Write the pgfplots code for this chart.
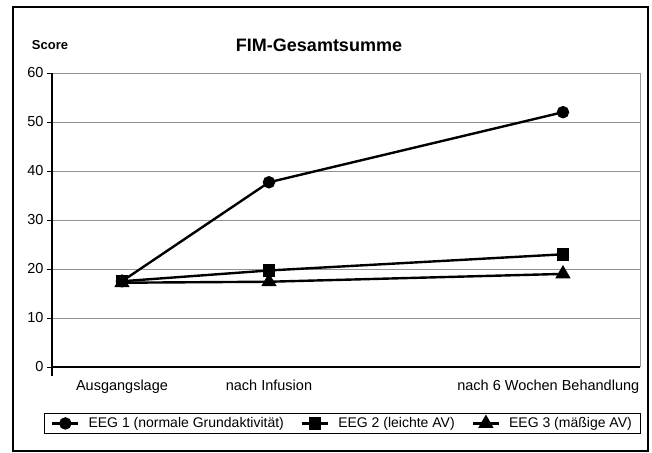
\documentclass[border=0pt]{standalone}
\usepackage{fontspec}
\setmainfont{Liberation Sans}
\usepackage{pgfplots}
\pgfplotsset{compat=1.18}
\begin{document}
\begin{tikzpicture}[x=1pt,y=1pt]
\path (0,0) rectangle (652,452);
\draw[line width=1.2pt] (13,1) rectangle (648,445);
\node[font=\fontsize{18}{21}\selectfont\bfseries] at (319,407) {FIM-Gesamtsumme};
\node[font=\fontsize{13}{15}\selectfont\bfseries] at (50,407) {Score};
\begin{axis}[
  at={(52pt,85pt)}, anchor=south west,
  scale only axis, width=588pt, height=294pt,
  xmin=-0.476, xmax=3.524, ymin=0, ymax=60,
  axis lines=left, axis line style={-, line width=1.4pt},
  ytick={0,10,...,60},
  ymajorgrids, grid style={gray!85, line width=0.7pt},
  tick align=outside, major tick length=5pt,
  y tick style={black, line width=0.8pt},
  xtick={0,1,2.9}, x tick style={draw=none},
  xticklabels={Ausgangslage, nach Infusion, nach 6 Wochen Behandlung},
  xticklabel style={yshift=-4pt},
  tick label style={font=\fontsize{14.5}{17}\selectfont},
  /pgf/number format/assume math mode=true,
  clip=false,
  legend columns=3,
  legend style={at={(rel axis cs:0.494,-0.192)}, anchor=center,
    draw=black, line width=1.1pt, font=\fontsize{14}{16}\selectfont,
    inner xsep=7pt, inner ysep=2.5pt,
    /tikz/every odd column/.append style={column sep=7pt},
    /tikz/every even column/.append style={column sep=15pt}},
  legend image code/.code={%
    \draw[mark repeat=2, mark phase=2, #1, line width=2.4pt]
      plot coordinates {(0pt,0pt) (13pt,0pt) (26pt,0pt)};},
]
\draw[gray!80, line width=0.8pt] (rel axis cs:1,0) -- (rel axis cs:1,1);
\draw[line width=1.4pt] (rel axis cs:0,0) -- ++(0pt,-9pt);
\addplot[black, line width=2.4pt, mark=*, mark size=5pt, mark options={solid}]
  coordinates {(0,17.5) (1,37.7) (3,52.0)};
\addlegendentry{EEG 1 (normale Grundaktivität)}
\addplot[black, line width=2.4pt, mark=square*, mark size=5pt, mark options={solid}]
  coordinates {(0,17.5) (1,19.7) (3,23.0)};
\addlegendentry{EEG 2 (leichte AV)}
\addplot[black, line width=2.4pt, mark=triangle*, mark size=6.5pt, mark options={solid}]
  coordinates {(0,17.2) (1,17.4) (3,19.0)};
\addlegendentry{EEG 3 (mäßige AV)}
\end{axis}
\end{tikzpicture}
\end{document}
